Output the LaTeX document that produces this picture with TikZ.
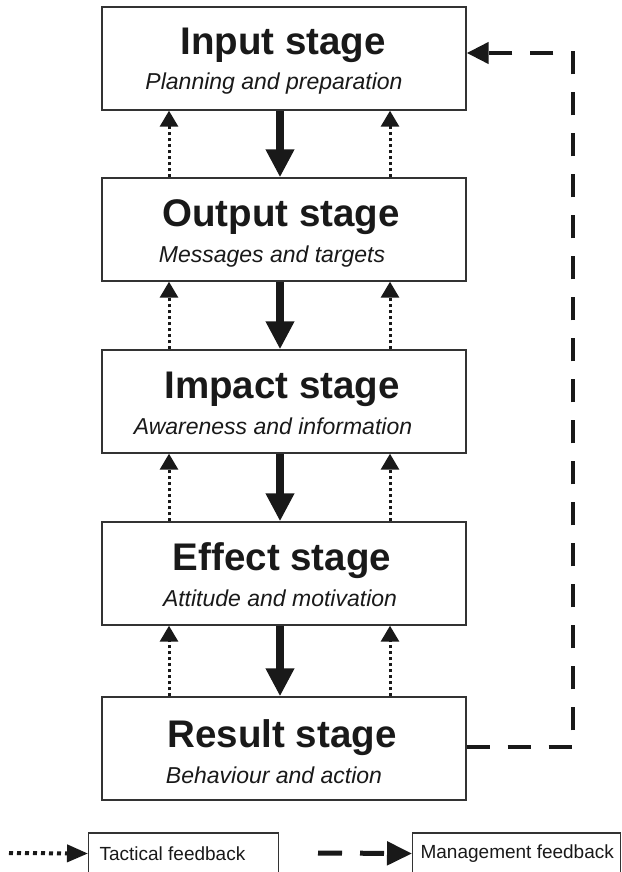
\documentclass[tikz,border=0pt]{standalone}
\usepackage{fontspec}
\setmainfont{Liberation Sans}
\usetikzlibrary{arrows.meta}

\begin{document}
\begin{tikzpicture}[x=1pt,y=-1pt,
  stagebox/.style={draw=black!80, line width=1.4pt, fill=white,
    minimum width=364pt, minimum height=103pt, inner sep=0pt},
  stagetitle/.style={anchor=base, inner sep=0pt, text=black!90,
    font=\fontsize{38.5}{40}\selectfont\bfseries},
  stagesub/.style={anchor=base, inner sep=0pt, text=black!90,
    font=\fontsize{23}{25}\selectfont\itshape},
  mainarrow/.style={line width=7.5pt, draw=black!90,
    -{Triangle[length=28pt,width=27pt]}},
  tactical/.style={line width=3pt, draw=black!90, dash pattern=on 3pt off 3pt,
    -{Triangle[length=16pt,width=18pt]}},
  management/.style={line width=4.5pt, draw=black!90, dash pattern=on 23pt off 18pt,
    -{Triangle[length=22pt,width=21pt]}},
  legbox/.style={draw=black!80, line width=1.2pt, anchor=west,
    minimum height=41pt, inner ysep=0pt, text=black!90,
    font=\fontsize{19}{21}\selectfont},
]
\useasboundingbox[fill=white] (0,0) rectangle (621,872);

% stage boxes
\node[stagebox] (input)  at (284,58.5)  {};
\node[stagebox] (output) at (284,229.5) {};
\node[stagebox] (impact) at (284,401.5) {};
\node[stagebox] (effect) at (284,573.5) {};
\node[stagebox] (result) at (284,748.5) {};

% stage titles and subtitles
\node[stagetitle] (input-t)  at (283,55)  {Input stage};
\node[stagesub]   (input-s)  at (274,90)  {Planning and preparation};
\node[stagetitle] (output-t) at (281,226) {Output stage};
\node[stagesub]   (output-s) at (272,262) {Messages and targets};
\node[stagetitle] (impact-t) at (282,398) {Impact stage};
\node[stagesub]   (impact-s) at (273,434) {Awareness and information};
\node[stagetitle] (effect-t) at (282,570) {Effect stage};
\node[stagesub]   (effect-s) at (280,606) {Attitude and motivation};
\node[stagetitle] (result-t) at (282,747) {Result stage};
\node[stagesub]   (result-s) at (274,783) {Behaviour and action};

% forward flow and tactical feedback between neighbouring stages
\foreach \a/\b in {input/output, output/impact, impact/effect, effect/result} {
  \draw[mainarrow] ([xshift=-4pt]\a.south) -- ([xshift=-4pt]\b.north);
  \draw[tactical] ([xshift=-115pt]\b.north) -- ([xshift=-115pt]\a.south);
  \draw[tactical] ([xshift=106pt]\b.north) -- ([xshift=106pt]\a.south);
}

% management feedback loop from result back to input
\coordinate (loop-bottom) at (573,747);
\coordinate (loop-top) at (573,53);
\draw[management] ([yshift=1.5pt]result.east) -- (loop-bottom) -- (loop-top)
  -- ([yshift=5.5pt]input.east);

% legend
\node[legbox, inner xsep=11pt] (tac) at (88,853.5)
  {\makebox[168pt][l]{Tactical feedback}};
\node[legbox, inner xsep=8pt] (mgmt) at (412,853.5)
  {\makebox[192pt][l]{Management feedback}};
\coordinate (tac-start) at (9,853);
\coordinate (mgmt-start) at (318,853);
\draw[line width=4pt, draw=black!90, dash pattern=on 4pt off 4pt,
  -{Triangle[length=21pt,width=17pt]}] (tac-start) -- (tac.west);
\draw[line width=5pt, draw=black!90, dash pattern=on 24pt off 18pt,
  -{Triangle[length=25pt,width=23pt]}] (mgmt-start) -- (mgmt.west);
\end{tikzpicture}
\end{document}
